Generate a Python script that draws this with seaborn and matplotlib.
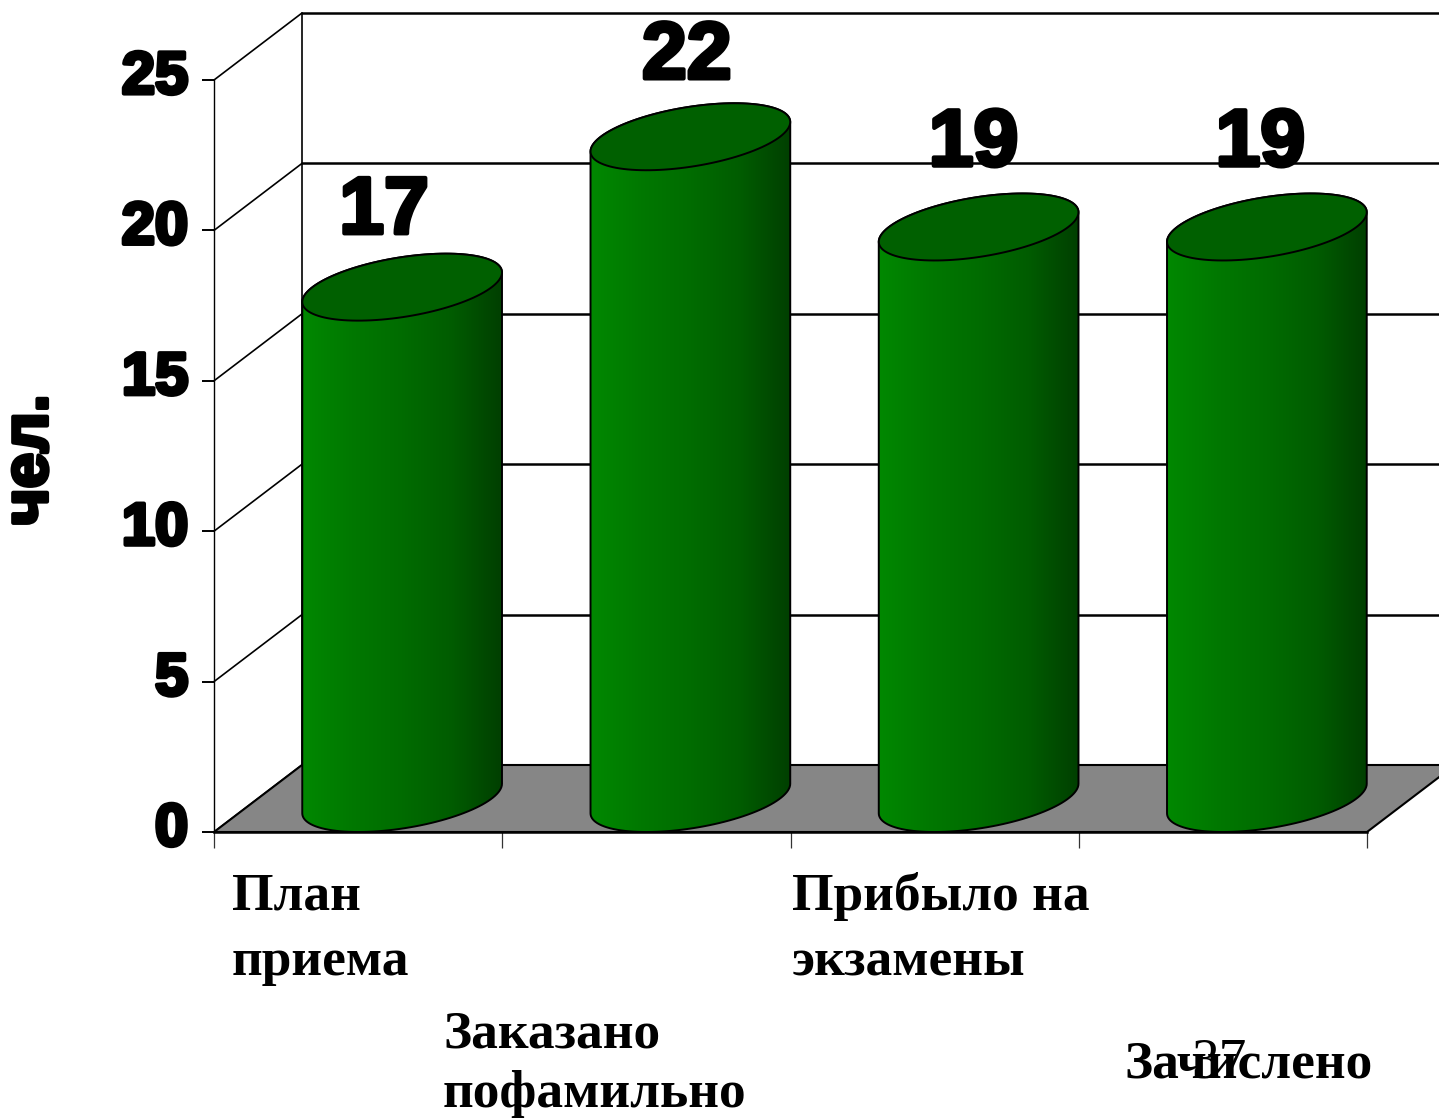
import numpy as np
import pandas as pd
import seaborn as sns
import matplotlib.pyplot as plt
import matplotlib.patheffects as pe
from matplotlib.colors import LinearSegmentedColormap
from matplotlib.patches import Polygon
from matplotlib.transforms import ScaledTranslation

# данные диаграммы
categories = ['План приема', 'Заказано пофамильно', 'Прибыло на экзамены', 'Зачислено']
values = [17, 22, 19, 19]
y_ticks = [0, 5, 10, 15, 20, 25]
y_title = 'чел.'
page_number = '37'

W, H = 1439, 1118
sns.set_style('white')
plt.rcParams['font.family'] = ['Liberation Sans', 'DejaVu Sans']


def fx(px):
    return px / W


def fy(py):
    return 1 - py / H


fig = plt.figure(figsize=(W / 100, H / 100), dpi=100, facecolor='white')
ax = fig.add_axes([fx(214), fy(832), fx(1367 - 214), (832 - 80) / H])

df = pd.DataFrame({'category': categories, 'value': values})
sns.barplot(data=df, x='category', y='value', width=0.622, color='#006400', ax=ax)

ax.set_xlim(-0.5, 3.5)
ax.set_ylim(0, 25)
px_x = (1367 - 214) / 4
px_y = (832 - 80) / 25

# глубина псевдо-3D
depth_x = 88 / px_x
depth_y = 67 / px_y
x_left, x_right = ax.get_xlim()

# задняя стенка и левая грань
for v in y_ticks:
    ax.plot([x_left + depth_x, x_right + depth_x], [v + depth_y] * 2, color='black', lw=1.8,
            clip_on=False, zorder=1)
    ax.plot([x_left, x_left + depth_x], [v, v + depth_y], color='black', lw=1.2,
            clip_on=False, zorder=1)
ax.plot([x_left + depth_x] * 2, [depth_y, 25 + depth_y], color='black', lw=1.2, clip_on=False, zorder=1)

# пол
floor = Polygon([(x_left, 0), (x_left + depth_x, depth_y), (x_right + depth_x, depth_y), (x_right, 0)],
                closed=True, facecolor='#868686', edgecolor='black', lw=1.5, clip_on=False, zorder=1.5)
ax.add_patch(floor)

# цилиндры поверх столбиков seaborn
cmap = LinearSegmentedColormap.from_list('cyl', ['#008800', '#007800', '#006c00', '#005c00', '#003f00'])
grad = np.linspace(0, 1, 256).reshape(1, -1)
half_x = depth_x / 2
half_y = depth_y / 2

for bar in ax.patches:
    if isinstance(bar, Polygon):
        continue
    a = bar.get_width() / 2
    cx = bar.get_x() + a + half_x
    top = bar.get_height() + half_y
    bar.set_visible(False)

    t0 = np.arctan2(half_x, a)
    lower = np.linspace(np.pi + t0, 2 * np.pi + t0, 60)
    upper = np.linspace(t0, np.pi + t0, 60)
    bottom_arc = np.column_stack([cx + a * np.cos(lower) + half_x * np.sin(lower), half_y + half_y * np.sin(lower)])
    top_arc = np.column_stack([cx + a * np.cos(upper) + half_x * np.sin(upper), top + half_y * np.sin(upper)])
    body = Polygon(np.vstack([bottom_arc, top_arc]), closed=True, facecolor='none', edgecolor='black',
                   lw=1.4, clip_on=False, zorder=4)
    ax.add_patch(body)

    extent_half = np.hypot(a, half_x)
    clip = Polygon(np.vstack([bottom_arc, top_arc]), closed=True, transform=ax.transData)
    img = ax.imshow(grad, cmap=cmap, aspect='auto', zorder=3,
                    extent=(cx - extent_half, cx + extent_half, 0, top + half_y))
    img.set_clip_path(clip)

    tt = np.linspace(0, 2 * np.pi, 120)
    cap = Polygon(np.column_stack([cx + a * np.cos(tt) + half_x * np.sin(tt), top + half_y * np.sin(tt)]),
                  closed=True, facecolor='#006000', edgecolor='black', lw=1.4, clip_on=False, zorder=5)
    ax.add_patch(cap)

ax.set_xlim(x_left, x_right)
ax.set_ylim(0, 25)

# оси
heavy = [pe.withStroke(linewidth=3.0, foreground='black')]
sns.despine(ax=ax, top=True, right=True)
for side in ['left', 'bottom']:
    ax.spines[side].set_color('black')
    ax.spines[side].set_zorder(2)
ax.spines['left'].set_linewidth(1.0)
ax.spines['bottom'].set_linewidth(1.8)

ax.set_yticks(y_ticks)
ax.set_xticks(np.arange(x_left, x_right + 0.5, 1))
ax.set_xticklabels([])
ax.tick_params(axis='y', left=True, length=8.6, width=1.4, color='black', pad=10, labelsize=43, labelcolor='black')
ax.tick_params(axis='x', bottom=True, length=11.5, width=0.9, color='#333333')
lift = ScaledTranslation(0, 8 / 100, fig.dpi_scale_trans)
for lab in ax.get_yticklabels():
    lab.set_fontweight('bold')
    lab.set_path_effects(heavy)
    lab.set_transform(lab.get_transform() + lift)

ax.set_xlabel('')
ax.set_ylabel(y_title, fontsize=46, fontweight='bold', color='black', path_effects=heavy)
ax.yaxis.set_label_coords((60 - 214) / (1367 - 214), (832 - 460) / (832 - 80))

# подписи значений
label_dx = [0.09, 0.14, 0.135, 0.13]
label_dy = [3.6, 3.75, 3.85, 3.85]
for i, v in enumerate(values):
    ax.text(i + label_dx[i], v + label_dy[i], str(v), ha='center', va='center', fontsize=58, fontweight='bold',
            color='black', path_effects=heavy, clip_on=False, zorder=6)

# подписи категорий (вразбивку, как в оригинале)
serif = ['Liberation Serif', 'DejaVu Serif']
label_font = dict(family=serif, fontsize=38.4, fontweight='bold', color='black', ha='left', va='baseline')
fig.text(fx(232), fy(910), 'План', **label_font)
fig.text(fx(232), fy(975), 'приема', **label_font)
fig.text(fx(443), fy(1048), 'Заказано', **label_font)
fig.text(fx(443), fy(1107), 'пофамильно', **label_font)
fig.text(fx(792), fy(910), 'Прибыло на', **label_font)
fig.text(fx(792), fy(975), 'экзамены', **label_font)
fig.text(fx(1124), fy(1077), 'Зачислено', **label_font)
fig.text(fx(1219), fy(1077), page_number, family=serif, fontsize=40, color='black', ha='center', va='baseline')

fig.savefig('out.png', dpi=100)
